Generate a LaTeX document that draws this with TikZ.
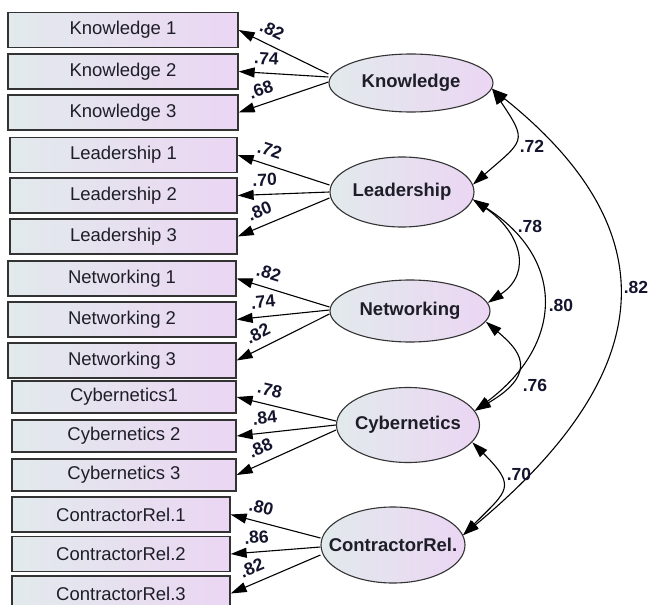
\documentclass[tikz,border=0pt]{standalone}
\usepackage{fontspec}
\setmainfont{Liberation Sans}
\usetikzlibrary{shapes.geometric,arrows.meta,calc}
\definecolor{bleft}{HTML}{E2EAEC}
\definecolor{bright}{HTML}{EBD6F3}
\definecolor{bord}{HTML}{333333}
\definecolor{txt}{HTML}{1E1E28}
\definecolor{labc}{HTML}{14142E}
\pgfdeclarelayer{bg}
\pgfsetlayers{bg,main}
\begin{document}
\begin{tikzpicture}[x=1pt,y=1pt,
  obs/.style={draw=bord, line width=1.3pt, left color=bleft, right color=bright, inner sep=0pt, text=txt, font=\fontsize{18.5}{20}\selectfont},
  lat/.style={ellipse, draw=bord, line width=1.1pt, left color=bleft, right color=bright, inner sep=0pt, text=txt, font=\fontsize{18.5}{20}\selectfont\bfseries},
  ld/.style={-{Triangle[length=16pt,width=10pt]}, line width=1.1pt},
  cv/.style={{Triangle[length=16pt,width=10pt]}-{Triangle[length=16pt,width=10pt]}, line width=1.1pt},
  lab/.style={font=\fontsize{17.5}{20}\selectfont\bfseries, text=labc, inner sep=0pt},
  ll/.style={lab, sloped, above=8pt, pos=0.7}]
\useasboundingbox (0,0) rectangle (648,-605);
\clip (0,0) rectangle (648,-605);
% observed variables
\node[obs, minimum width=230pt, minimum height=35pt] (k1) at (123,-30) {Knowledge 1};
\node[obs, minimum width=230pt, minimum height=35pt] (k2) at (123,-71.5) {Knowledge 2};
\node[obs, minimum width=230pt, minimum height=35pt] (k3) at (123,-112.5) {Knowledge 3};
\node[obs, minimum width=227pt, minimum height=35pt] (l1) at (123.5,-155) {Leadership 1};
\node[obs, minimum width=227pt, minimum height=35pt] (l2) at (123.5,-195.5) {Leadership 2};
\node[obs, minimum width=227pt, minimum height=35pt] (l3) at (123.5,-236.5) {Leadership 3};
\node[obs, minimum width=228pt, minimum height=35pt] (n1) at (122,-278.5) {Networking 1};
\node[obs, minimum width=228pt, minimum height=35pt] (n2) at (122,-319.5) {Networking 2};
\node[obs, minimum width=228pt, minimum height=35pt] (n3) at (122,-360.5) {Networking 3};
\node[obs, minimum width=224pt, minimum height=32pt] (c1) at (124,-397) {Cybernetics1};
\node[obs, minimum width=224pt, minimum height=32pt] (c2) at (124,-436) {Cybernetics 2};
\node[obs, minimum width=224pt, minimum height=32pt] (c3) at (124,-475) {Cybernetics 3};
\node[obs, minimum width=218pt, minimum height=35pt] (r1) at (121,-514.5) {ContractorRel.1};
\node[obs, minimum width=218pt, minimum height=35pt] (r2) at (121,-554) {ContractorRel.2};
\node[obs, minimum width=218pt, minimum height=35pt] (r3) at (121,-593.5) {ContractorRel.3};
% latent variables
\node[lat, minimum width=164pt, minimum height=58pt] (K) at (411,-83) {\makebox[0pt]{Knowledge}};
\node[lat, minimum width=144pt, minimum height=70pt] (L) at (402,-192) {\makebox[0pt]{Leadership}};
\node[lat, minimum width=160pt, minimum height=62pt] (N) at (410,-311) {\makebox[0pt]{Networking}};
\node[lat, minimum width=143pt, minimum height=75pt] (C) at (408,-425) {\makebox[0pt]{Cybernetics}};
\node[lat, minimum width=144pt, minimum height=76pt] (R) at (393,-545) {\makebox[0pt]{ContractorRel.}};
% loadings
\begin{pgfonlayer}{bg}
\draw[ld] ([yshift=9pt]K.west) -- node[ll]{.82} (k1.east);
\draw[ld] ([yshift=6pt]K.west) -- node[ll]{.74} (k2.east);
\draw[ld] ([yshift=1pt]K.west) -- node[ll]{.68} (k3.east);
\draw[ld] ([yshift=7pt]L.west) -- node[ll]{.72} (l1.east);
\draw[ld] (L.west) -- node[ll]{.70} (l2.east);
\draw[ld] ([yshift=-6pt]L.west) -- node[ll]{.80} (l3.east);
\draw[ld] ([yshift=4pt]N.west) -- node[ll]{.82} (n1.east);
\draw[ld] ([yshift=1pt]N.west) -- node[ll]{.74} (n2.east);
\draw[ld] ([yshift=-3pt]N.west) -- node[ll]{.82} (n3.east);
\draw[ld] ([yshift=4pt]C.west) -- node[ll]{.78} (c1.east);
\draw[ld] (C.west) -- node[ll]{.84} (c2.east);
\draw[ld] ([yshift=-5pt]C.west) -- node[ll]{.88} (c3.east);
\draw[ld] ([yshift=7pt]R.west) -- node[ll]{.80} (r1.east);
\draw[ld] ([yshift=-2pt]R.west) -- node[ll]{.86} (r2.east);
\draw[ld] ([yshift=-10pt]R.west) -- node[ll]{.82} (r3.east);
\end{pgfonlayer}
% covariances
\draw[cv] (K.-4) .. controls (528,-142) and (524,-140) .. (L.6);
\draw[cv] (L.-6) .. controls (519,-231) and (534,-272) .. (N.6);
\draw[cv] (L.-6) .. controls (566,-259) and (564,-344) .. (C.12);
\draw[cv] (N.-8) .. controls (518,-349) and (541,-372) .. (C.12);
\draw[cv] (C.-15) .. controls (517,-487) and (508,-490) .. (R.8);
\draw[cv] (K.-4) .. controls (663.5,-226) and (666.5,-366) .. (R.8);
\node[lab] (v1) at (532,-146) {.72};
\node[lab] (v2) at (530,-226) {.78};
\node[lab] (v3) at (561,-305) {.80};
\node[lab] (v4) at (535,-385) {.76};
\node[lab] (v5) at (519,-474) {.70};
\node[lab] (v6) at (636,-287) {.82};
\end{tikzpicture}
\end{document}
